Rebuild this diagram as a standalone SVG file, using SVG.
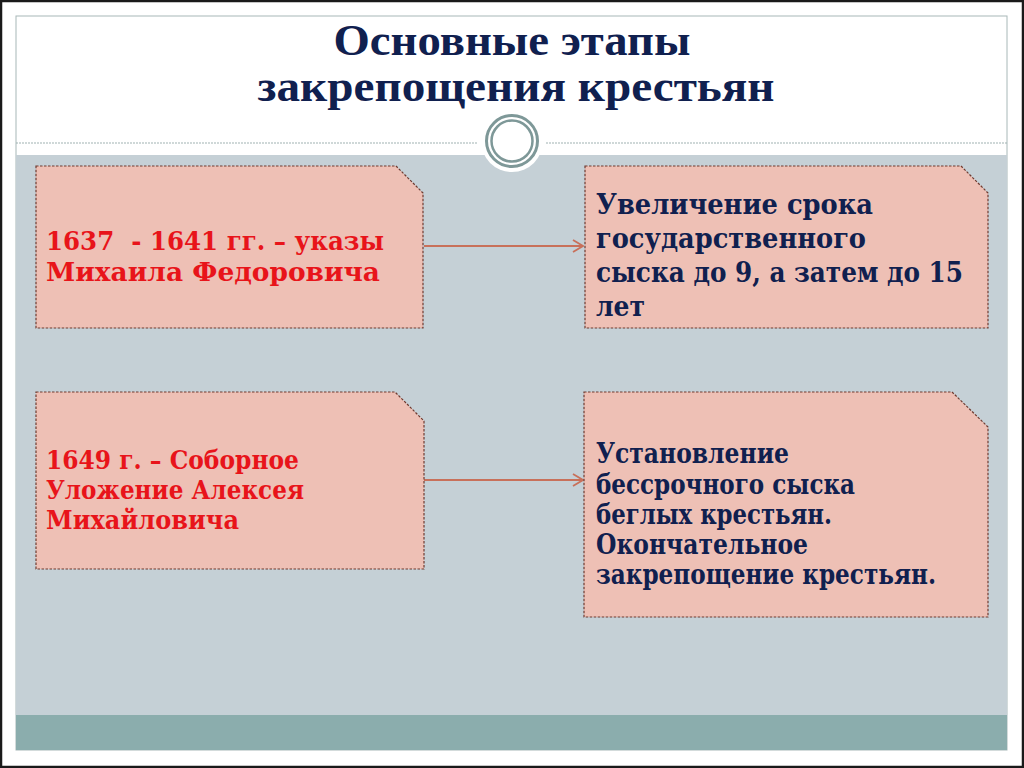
<svg xmlns="http://www.w3.org/2000/svg" width="1024" height="768" viewBox="0 0 1024 768">
<style>
.box{fill:#EEC0B5;stroke:#6E3A30;stroke-width:1.2;stroke-dasharray:2.5,1.5}
.red{font-family:"DejaVu Serif","Liberation Serif",serif;font-weight:bold;fill:#E8141A;font-size:26px}
.navy{font-family:"DejaVu Serif","Liberation Serif",serif;font-weight:bold;fill:#10204F;font-size:27px}
.title{font-family:"Liberation Serif","Times New Roman",serif;font-weight:bold;fill:#10204F;font-size:45px;text-anchor:middle}
.conn{stroke:#C8705A;stroke-width:2;fill:none}
</style>
<defs>
<marker id="arr" viewBox="0 0 12 14" refX="11" refY="7" markerWidth="12" markerHeight="14" markerUnits="userSpaceOnUse" orient="auto">
<path d="M1,1 L11,7 L1,13" fill="none" stroke="#C8705A" stroke-width="1.8"/>
</marker>
</defs>
<rect x="0" y="0" width="1024" height="768" fill="#FFFFFF"/>
<rect x="1" y="1" width="1022" height="766" fill="none" stroke="#1A1A1A" stroke-width="2.5"/>
<g id="background">
<rect x="16" y="16" width="991" height="734" fill="#FFFFFF" stroke="#A8B8B8" stroke-width="1"/>
<rect x="16" y="155" width="991" height="560" fill="#C5D0D6"/>
<rect x="16" y="715" width="991" height="35" fill="#8BADAD"/>
<line x1="16" y1="143" x2="478" y2="143" stroke="#A0B2B2" stroke-width="1.2" stroke-dasharray="2,1"/>
<line x1="546" y1="143" x2="1007" y2="143" stroke="#A0B2B2" stroke-width="1.2" stroke-dasharray="2,1"/>
<circle cx="512" cy="141" r="31" fill="#FFFFFF"/>
<circle cx="512" cy="141" r="25.5" fill="none" stroke="#7E9898" stroke-width="3"/>
<circle cx="512" cy="141" r="20.5" fill="none" stroke="#7E9898" stroke-width="2.5"/>
</g>
<g id="title">
<text class="title" x="512" y="55" textLength="357" lengthAdjust="spacingAndGlyphs">Основные этапы</text>
<text class="title" x="516" y="101" textLength="517" lengthAdjust="spacingAndGlyphs">закрепощения крестьян</text>
</g>
<g id="connectors">
<line class="conn" x1="424" y1="246" x2="583" y2="246" marker-end="url(#arr)"/>
<line class="conn" x1="424" y1="480" x2="583" y2="480" marker-end="url(#arr)"/>
</g>
<g id="node1">
<path class="box" d="M36,166 H396 L423,193 V328 H36 Z"/>
<text class="red" x="46" y="250" textLength="338" lengthAdjust="spacingAndGlyphs" xml:space="preserve">1637  - 1641 гг. – указы</text>
<text class="red" x="46" y="281" textLength="334" lengthAdjust="spacingAndGlyphs">Михаила Федоровича</text>
</g>
<g id="node2">
<path class="box" d="M585,166 H961 L988,193 V328 H585 Z"/>
<text class="navy" x="596" y="214" textLength="277" lengthAdjust="spacingAndGlyphs">Увеличение срока</text>
<text class="navy" x="596" y="248" textLength="270" lengthAdjust="spacingAndGlyphs">государственного</text>
<text class="navy" x="596" y="282" textLength="367" lengthAdjust="spacingAndGlyphs">сыска до 9, а затем до 15</text>
<text class="navy" x="596" y="316" textLength="49" lengthAdjust="spacingAndGlyphs">лет</text>
</g>
<g id="node3">
<path class="box" d="M36,392 H395 L424,421 V569 H36 Z"/>
<text class="red" x="46" y="469" textLength="253" lengthAdjust="spacingAndGlyphs">1649 г. – Соборное</text>
<text class="red" x="46" y="499" textLength="258" lengthAdjust="spacingAndGlyphs">Уложение Алексея</text>
<text class="red" x="46" y="529" textLength="193" lengthAdjust="spacingAndGlyphs">Михайловича</text>
</g>
<g id="node4">
<path class="box" d="M584,392 H952 L988,427 V617 H584 Z"/>
<text class="navy" x="596" y="463" textLength="193" lengthAdjust="spacingAndGlyphs">Установление</text>
<text class="navy" x="596" y="494" textLength="259" lengthAdjust="spacingAndGlyphs">бессрочного сыска</text>
<text class="navy" x="596" y="524" textLength="236" lengthAdjust="spacingAndGlyphs">беглых крестьян.</text>
<text class="navy" x="596" y="554" textLength="212" lengthAdjust="spacingAndGlyphs">Окончательное</text>
<text class="navy" x="596" y="584" textLength="340" lengthAdjust="spacingAndGlyphs">закрепощение крестьян.</text>
</g>
</svg>
